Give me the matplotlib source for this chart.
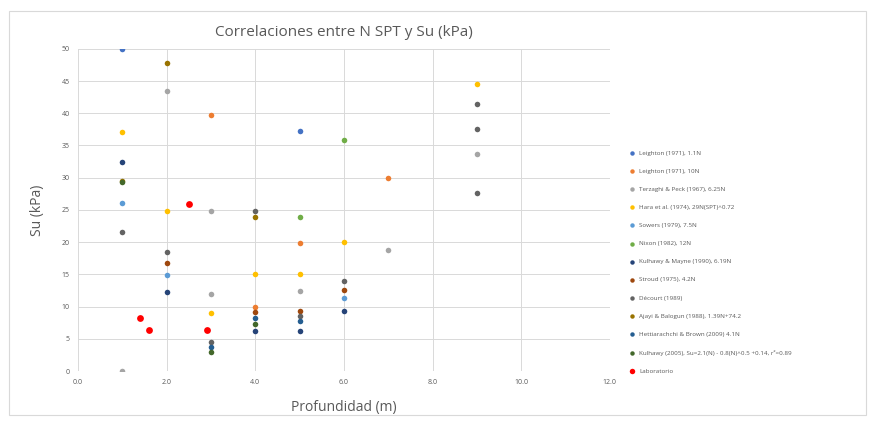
import matplotlib
matplotlib.use("Agg")
import matplotlib.pyplot as plt
from matplotlib.patches import Rectangle

plt.rcParams["font.family"] = ["Open Sans", "DejaVu Sans"]

# series: (label, colour, depths, Su values)
labels = [
    "Leighton (1971), 1.1N",
    "Leighton (1971), 10N",
    "Terzaghi & Peck (1967), 6.25N",
    "Hara et al. (1974), 29N(SPT)^0.72",
    "Sowers (1979), 7.5N",
    "Nixon (1982), 12N",
    "Kulhawy & Mayne (1990), 6.19N",
    "Stroud (1975), 4.2N",
    "Décourt (1989)",
    "Ajayi & Balogun (1988), 1.39N+74.2",
    "Hettiarachchi & Brown (2009) 4.1N",
    "Kulhawy (2005), Su=2.1(N) - 0.8(N)^0.5 +0.14, r²=0.89",
    "Laboratorio",
]
colors = ["#4472C4", "#ED7D31", "#A5A5A5", "#FFC000", "#5B9BD5", "#70AD47",
          "#264478", "#9E480E", "#636363", "#997300", "#255E91", "#43682B",
          "#FF0000"]

depths = [
    [1, 5],
    [3, 4, 5, 7],
    [1, 2, 3, 3, 5, 7, 9],
    [1, 2, 3, 4, 5, 6, 9],
    [1, 2, 6],
    [5, 6],
    [1, 2, 4, 5, 6],
    [2, 4, 5, 6],
    [1, 2, 3, 4, 5, 6, 9, 9, 9],
    [1, 2, 4],
    [3, 4, 5],
    [1, 3, 4],
    [1.4, 1.6, 2.5, 2.9],
]
su = [
    [50.0, 37.3],
    [39.8, 10.0, 19.9, 30.0],
    [0.0, 43.5, 24.8, 12.0, 12.4, 18.8, 33.7],
    [37.1, 24.8, 9.0, 15.0, 15.0, 20.0, 44.6],
    [26.1, 14.9, 11.3],
    [23.9, 35.9],
    [32.5, 12.3, 6.2, 6.2, 9.3],
    [16.8, 9.2, 9.3, 12.6],
    [21.6, 18.5, 4.5, 24.8, 8.5, 14.0, 41.5, 37.6, 27.6],
    [29.5, 47.8, 23.9],
    [3.7, 8.2, 7.8],
    [29.3, 3.0, 7.3],
    [8.2, 6.4, 25.9, 6.4],
]

fig = plt.figure(figsize=(8.7, 4.28), dpi=100)
fig.patches.append(Rectangle((0.01, 0.03), 0.985, 0.945, transform=fig.transFigure,
                             fill=False, edgecolor="#D9D9D9", linewidth=0.8))
ax = fig.add_axes([0.0897, 0.133, 0.6113, 0.753])

for lab, c, x, y in zip(labels, colors, depths, su):
    size = 24 if lab == "Laboratorio" else 16
    ax.scatter(x, y, s=size, color=c, label=lab, zorder=3, linewidths=0)

ax.set_xlim(0, 12)
ax.set_ylim(0, 50)
ax.set_xticks(range(0, 13, 2))
ax.set_xticklabels([f"{v:.1f}" for v in range(0, 13, 2)])
ax.set_yticks(range(0, 51, 5))
ax.tick_params(labelsize=5, colors="#595959", length=0, pad=6)
ax.grid(True, color="#D9D9D9", linewidth=0.7)
ax.set_axisbelow(True)
for s in ax.spines.values():
    s.set_visible(False)

ax.set_title("Correlaciones entre N SPT y Su (kPa)", fontsize=11, color="#595959", pad=9)
ax.set_xlabel("Profundidad (m)", fontsize=10, color="#595959", labelpad=10)
ax.set_ylabel("Su (kPa)", fontsize=10, color="#595959", labelpad=12)

fig.legend(loc="upper left", bbox_to_anchor=(0.716, 0.655), frameon=False,
           fontsize=4.5, labelspacing=2.04, handletextpad=0.2, markerscale=0.8,
           labelcolor="#595959", borderaxespad=0)

fig.savefig("out.png", dpi=100)
